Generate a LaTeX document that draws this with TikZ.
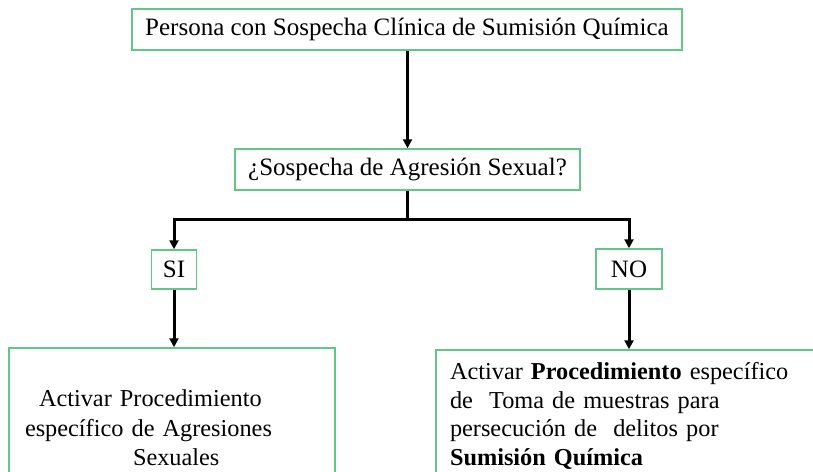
\documentclass[tikz,border=0pt]{standalone}
\usepackage{fontspec}
\setmainfont{Liberation Serif}
\usetikzlibrary{arrows.meta}
\definecolor{verdecaja}{RGB}{95,200,135}
\tikzset{
    caja/.style={draw=verdecaja, line width=1.5pt, inner sep=0pt, font=\fontsize{25}{30}\selectfont},
    flecha/.style={-{Triangle[length=9pt,width=9pt]}, line width=3pt},
}

\begin{document}
\begin{tikzpicture}[x=1pt, y=-1pt]
        \useasboundingbox (0,0) rectangle (813,471);
        \clip (0,0) rectangle (813,471);

        % cajas
        \node[caja, minimum width=550, minimum height=41] (persona) at (407,29.5) {Persona con Sospecha Clínica de Sumisión Química};
        \node[caja, minimum width=345, minimum height=41] (sospecha) at (407.5,169.5) {¿Sospecha de Agresión Sexual?};
        \node[caja, minimum width=45, minimum height=39] (si) at (174,269.5) {SI};
        \node[caja, minimum width=66, minimum height=40] (no) at (629,269) {NO};

        % procedimientos (cortados abajo)
        \node[caja, font=\fontsize{24.3}{29.5}\selectfont, minimum width=326, minimum height=160,
              text width=294, inner xsep=16, align=left] (agresiones) at (172,428)
            {\hspace*{14pt}Activar Procedimiento\\
             específico de Agresiones\\
             \hspace*{108pt}Sexuales};
        \node[caja, font=\fontsize{24.3}{28.5}\selectfont, minimum width=394, minimum height=132,
              text width=366, inner xsep=14, align=left] (muestras) at (633,416)
            {Activar \textbf{Procedimiento} específico\\
             de\ \ Toma de muestras para\\
             persecución de\ \ delitos por\\
             \textbf{Sumisión Química}};

        % flechas
        \coordinate (rama) at (407.5,219);
        \draw[flecha] (persona.south -| sospecha) -- (sospecha);
        \draw[line width=3pt] (sospecha) -- (rama);
        \draw[flecha] (rama) -| (si);
        \draw[flecha] (rama) -| (no);
        \draw[flecha] (si.south) -- (si.south |- agresiones.north);
        \draw[flecha] (no.south) -- (no.south |- muestras.north);
    \end{tikzpicture}
\end{document}
